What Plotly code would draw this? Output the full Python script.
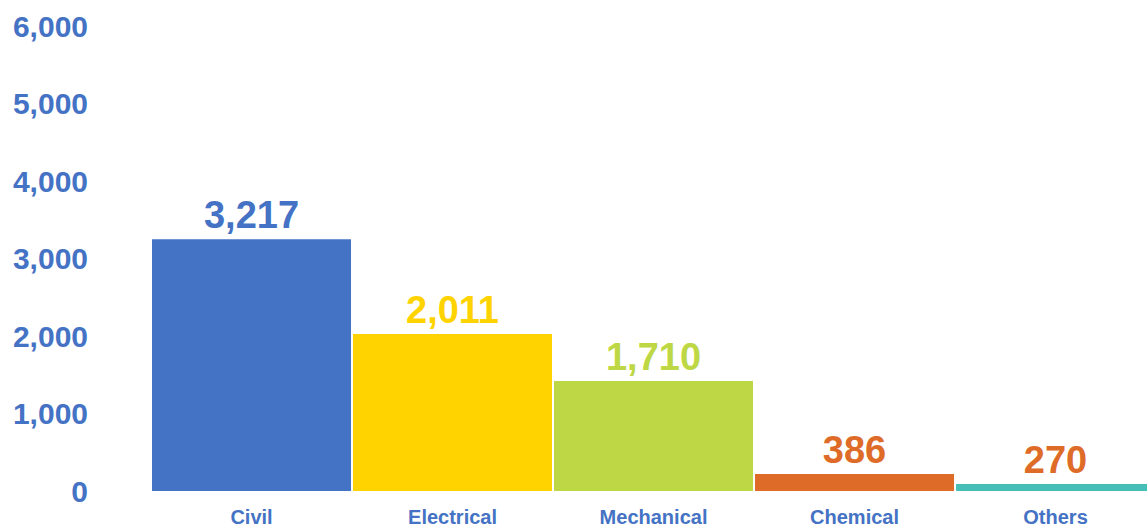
import plotly.graph_objects as go

categories = ["Civil", "Electrical", "Mechanical", "Chemical", "Others"]
bar_heights = [3250, 2025, 1420, 220, 90]          # heights as drawn in the picture
label_text = ["3,217", "2,011", "1,710", "386", "270"]  # data labels as printed
bar_colors = ["#4472C4", "#FFD300", "#BED744", "#DE6B28", "#45BFB8"]
label_colors = ["#4472C4", "#FFD300", "#BED744", "#DE6B28", "#DE6B28"]
y_ticks = [0, 1000, 2000, 3000, 4000, 5000, 6000]

FONT = "Liberation Sans, Arial, sans-serif"

fig = go.Figure(go.Bar(
    x=categories,
    y=bar_heights,
    marker=dict(color=bar_colors, line=dict(width=0)),
    text=label_text,
    textposition="outside",
    textfont=dict(family=FONT, size=38, color=label_colors, weight="bold"),
    constraintext="none",
    cliponaxis=False,
    hoverinfo="skip",
))

fig.update_layout(
    width=1147, height=528,
    margin=dict(l=151, r=0, t=26, b=37),
    paper_bgcolor="white", plot_bgcolor="white",
    bargap=0.01,
    showlegend=False,
    xaxis=dict(
        range=[-0.5, 4.455],
        showgrid=False, zeroline=False, showline=False, ticks="",
        tickfont=dict(family=FONT, size=20, color="#4472C4", weight="bold"),
        ticklabelstandoff=12,
    ),
    yaxis=dict(
        range=[0, 6000],
        tickvals=y_ticks,
        tickformat=",",
        showgrid=False, zeroline=False, showline=False, ticks="",
        tickfont=dict(family=FONT, size=30, color="#4472C4", weight="bold"),
        ticklabelstandoff=62,
    ),
)

fig.write_html(
    "out.html",
    config={"displayModeBar": False},
    post_script="document.body.style.margin='0';document.body.style.overflow='hidden';",
)
